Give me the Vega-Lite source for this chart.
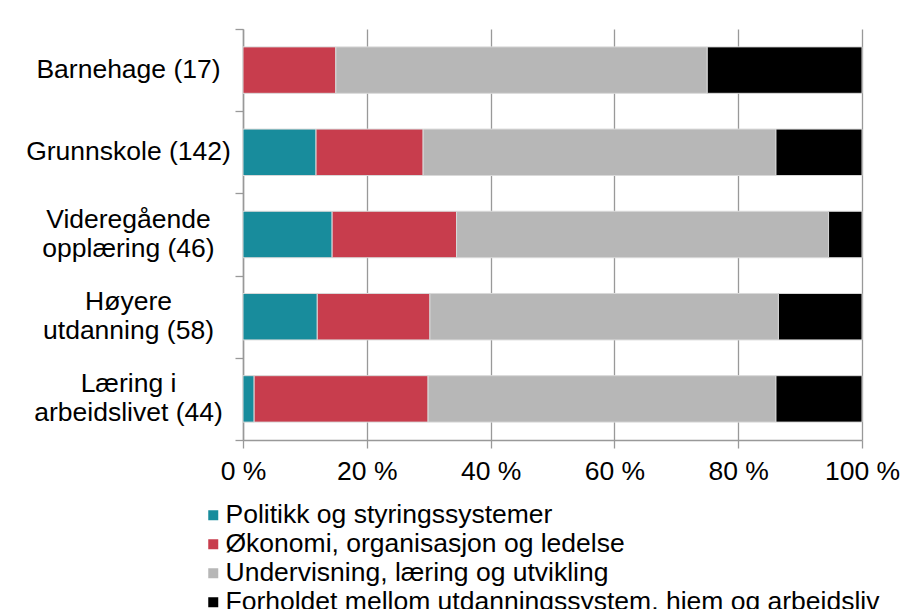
{
  "$schema": "https://vega.github.io/schema/vega-lite/v6.json",
  "width": 619,
  "height": 411,
  "autosize": {"type": "none"},
  "padding": {"left": 243, "top": 29, "right": 47, "bottom": 169},
  "background": "white",
  "config": {"view": {"stroke": null}, "font": "Liberation Sans"},
  "data": {
    "values": [
      {"niva": "Barnehage (17)", "tema": "Økonomi, organisasjon og ledelse", "andel": 15},
      {"niva": "Barnehage (17)", "tema": "Undervisning, læring og utvikling", "andel": 60},
      {"niva": "Barnehage (17)", "tema": "Forholdet mellom utdanningssystem, hjem og arbeidsliv", "andel": 25},
      {"niva": "Grunnskole (142)", "tema": "Politikk og styringssystemer", "andel": 11.8},
      {"niva": "Grunnskole (142)", "tema": "Økonomi, organisasjon og ledelse", "andel": 17.3},
      {"niva": "Grunnskole (142)", "tema": "Undervisning, læring og utvikling", "andel": 57.0},
      {"niva": "Grunnskole (142)", "tema": "Forholdet mellom utdanningssystem, hjem og arbeidsliv", "andel": 13.9},
      {"niva": "Videregående\nopplæring (46)", "tema": "Politikk og styringssystemer", "andel": 14.4},
      {"niva": "Videregående\nopplæring (46)", "tema": "Økonomi, organisasjon og ledelse", "andel": 20.1},
      {"niva": "Videregående\nopplæring (46)", "tema": "Undervisning, læring og utvikling", "andel": 60.1},
      {"niva": "Videregående\nopplæring (46)", "tema": "Forholdet mellom utdanningssystem, hjem og arbeidsliv", "andel": 5.4},
      {"niva": "Høyere\nutdanning (58)", "tema": "Politikk og styringssystemer", "andel": 12.0},
      {"niva": "Høyere\nutdanning (58)", "tema": "Økonomi, organisasjon og ledelse", "andel": 18.2},
      {"niva": "Høyere\nutdanning (58)", "tema": "Undervisning, læring og utvikling", "andel": 56.3},
      {"niva": "Høyere\nutdanning (58)", "tema": "Forholdet mellom utdanningssystem, hjem og arbeidsliv", "andel": 13.5},
      {"niva": "Læring i\narbeidslivet (44)", "tema": "Politikk og styringssystemer", "andel": 1.8},
      {"niva": "Læring i\narbeidslivet (44)", "tema": "Økonomi, organisasjon og ledelse", "andel": 28.1},
      {"niva": "Læring i\narbeidslivet (44)", "tema": "Undervisning, læring og utvikling", "andel": 56.2},
      {"niva": "Læring i\narbeidslivet (44)", "tema": "Forholdet mellom utdanningssystem, hjem og arbeidsliv", "andel": 13.9}
    ]
  },
  "transform": [
    {"calculate": "indexof(['Politikk og styringssystemer','Økonomi, organisasjon og ledelse','Undervisning, læring og utvikling','Forholdet mellom utdanningssystem, hjem og arbeidsliv'], datum.tema)", "as": "rekkefolge"}
  ],
  "mark": {"type": "bar", "stroke": "#d9d9d9", "strokeWidth": 1, "height": {"band": 0.565}},
  "encoding": {
    "y": {
      "field": "niva",
      "type": "nominal",
      "sort": ["Barnehage (17)", "Grunnskole (142)", "Videregående\nopplæring (46)", "Høyere\nutdanning (58)", "Læring i\narbeidslivet (44)"],
      "scale": {"paddingInner": 0, "paddingOuter": 0},
      "axis": {
        "title": null,
        "tickBand": "extent",
        "tickSize": 8,
        "tickColor": "#999999",
        "tickWidth": 1.3,
        "domainColor": "#999999",
        "domainWidth": 1.5,
        "grid": false,
        "labelFontSize": 26.5,
        "labelColor": "#000000",
        "labelAlign": "center",
        "labelPadding": 107,
        "labelLimit": 400,
        "labelLineHeight": 29,
        "labelOffset": {"condition": {"test": "isValid(datum.value) && indexof(datum.value, '\\n') >= 0", "value": -15}, "value": -1},
        "labelExpr": "isValid(datum.value) ? split(datum.value, '\\n') : ''"
      }
    },
    "x": {
      "field": "andel",
      "type": "quantitative",
      "stack": "zero",
      "scale": {"domain": [0, 100], "nice": false},
      "axis": {
        "title": null,
        "values": [0, 20, 40, 60, 80, 100],
        "labelExpr": "datum.value + ' %'",
        "grid": true,
        "gridColor": "#999999",
        "gridWidth": 1.3,
        "tickSize": 8,
        "tickColor": "#999999",
        "tickWidth": 1.3,
        "domainColor": "#999999",
        "domainWidth": 1.5,
        "labelFontSize": 26.5,
        "labelColor": "#000000",
        "labelPadding": 10,
        "labelFlush": false,
        "labelOverlap": false
      }
    },
    "color": {
      "field": "tema",
      "type": "nominal",
      "scale": {
        "domain": ["Politikk og styringssystemer", "Økonomi, organisasjon og ledelse", "Undervisning, læring og utvikling", "Forholdet mellom utdanningssystem, hjem og arbeidsliv"],
        "range": ["#188C9C", "#C83D4D", "#B7B7B7", "#000000"]
      },
      "legend": {
        "title": null,
        "orient": "none",
        "legendX": -43,
        "legendY": 473,
        "direction": "vertical",
        "symbolType": "square",
        "symbolSize": 100,
        "symbolStrokeWidth": 0,
        "labelFontSize": 26.5,
        "labelColor": "#000000",
        "labelLimit": 800,
        "labelOffset": -1,
        "rowPadding": 2,
        "padding": 0
      }
    },
    "order": {"field": "rekkefolge", "type": "quantitative"}
  }
}
